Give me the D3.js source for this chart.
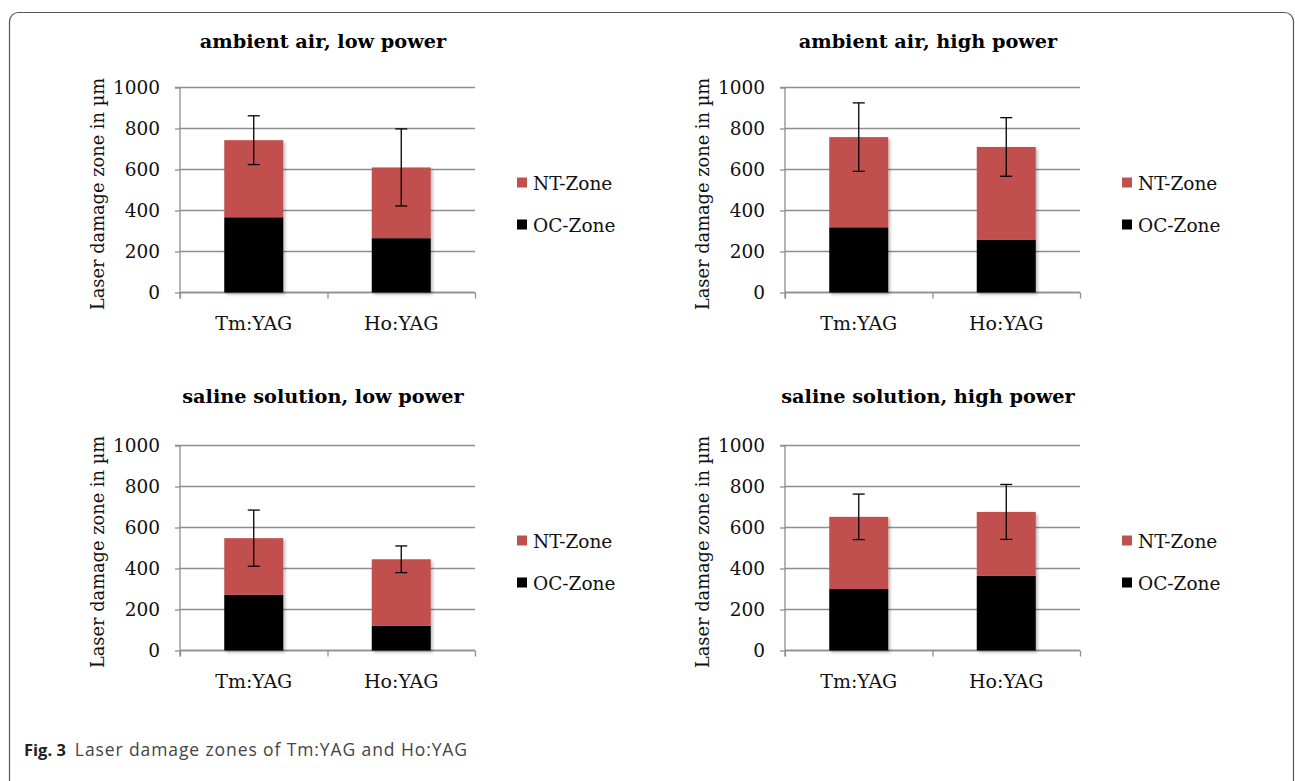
<!DOCTYPE html>
<html>
<head>
<meta charset="utf-8">
<script src="https://cdn.jsdelivr.net/npm/d3@7"></script>
<style>
  body { margin: 0; background: #fff; }
  svg text { font-family: "DejaVu Serif", serif; }
</style>
</head>
<body>
<svg id="chart" width="1295" height="781"></svg>
<script>
// chart data
var categories = ["Tm:YAG", "Ho:YAG"];
var panelTitles = ["ambient air, low power", "ambient air, high power",
                   "saline solution, low power", "saline solution, high power"];
var seriesNames = ["NT-Zone", "OC-Zone"];
var ocZone = [[367, 265], [318, 258], [272, 121], [300, 364]];
var ntZone = [[376, 345], [440, 452], [276, 324], [352, 312]];
var errBars = [[119, 188], [167, 143], [137, 65], [111, 134]];
var yTicks = [0, 200, 400, 600, 800, 1000];

var colors = { nt: "#c0504d", oc: "#000000" };
var gridColor = "#8e8e8e";

var svg = d3.select("#chart");

// drop shadow like the office chart bars
var defs = svg.append("defs");
defs.append("filter").attr("id", "shadow")
    .attr("x", "-20%").attr("y", "-20%").attr("width", "140%").attr("height", "140%")
  .append("feDropShadow")
    .attr("dx", 2).attr("dy", 2).attr("stdDeviation", 1.5)
    .attr("flood-color", "#000").attr("flood-opacity", 0.25);

// rounded frame
svg.append("rect")
    .attr("x", 9.5).attr("y", 12.5).attr("width", 1284).attr("height", 780)
    .attr("rx", 9).attr("fill", "none").attr("stroke", "#555").attr("stroke-width", 1.2);

var plotW = 295, plotH = 205;
var origins = [[180, 87.5], [785, 87.5], [180, 445.5], [785, 445.5]];
var titleOffset = [-40, -40, -43, -43];

var y = d3.scaleLinear().domain([0, 1000]).range([plotH, 0]);
var x = d3.scaleBand().domain(categories).range([0, plotW]).paddingInner(0.6).paddingOuter(0.3);
var xEdges = d3.scaleLinear().domain([0, categories.length]).range([0, plotW]);

panelTitles.forEach(function(title, p) {
  var g = svg.append("g")
      .attr("transform", "translate(" + origins[p][0] + "," + origins[p][1] + ")");

  g.append("text")
      .attr("x", 143).attr("y", titleOffset[p])
      .attr("text-anchor", "middle")
      .attr("font-size", 19.3).attr("font-weight", "bold")
      .text(title);

  // grid
  g.append("g").selectAll("line").data(yTicks).join("line")
      .attr("x1", 0).attr("x2", plotW)
      .attr("y1", function(d){ return y(d); }).attr("y2", function(d){ return y(d); })
      .attr("stroke", gridColor).attr("stroke-width", 1.3);

  // y axis
  var ya = g.append("g")
      .call(d3.axisLeft(y).tickValues(yTicks).tickFormat(d3.format("d")).tickSize(5).tickPadding(15));
  ya.selectAll("path, line").attr("stroke", gridColor).attr("stroke-width", 1.3);
  ya.select(".domain").attr("d", "M-5,0H0V" + (plotH + 6));
  ya.selectAll("text").attr("font-size", 18.5).attr("font-family", "DejaVu Serif").attr("fill", "#111");

  // x axis
  var xa = g.append("g").attr("transform", "translate(0," + plotH + ")")
      .call(d3.axisBottom(xEdges).ticks(categories.length).tickSize(6).tickFormat(""));
  xa.selectAll("path, line").attr("stroke", gridColor).attr("stroke-width", 1.3);
  xa.select(".domain").attr("d", "M0,0H" + plotW);

  g.selectAll(".cat").data(categories).join("text")
      .attr("class", "cat")
      .attr("x", function(d){ return x(d) + x.bandwidth() / 2; })
      .attr("y", plotH + 37)
      .attr("text-anchor", "middle").attr("font-size", 19).attr("fill", "#111")
      .text(function(d){ return d; });

  // y label
  g.append("text")
      .attr("transform", "translate(-76," + (plotH / 2 + 4) + ") rotate(-90)")
      .attr("text-anchor", "middle").attr("font-size", 17.8).attr("fill", "#111")
      .text("Laser damage zone in µm");

  // stacked bars
  var bars = g.append("g").attr("filter", "url(#shadow)");
  categories.forEach(function(c, i) {
    var oc = ocZone[p][i], nt = ntZone[p][i];
    bars.append("rect")
        .attr("x", x(c)).attr("width", x.bandwidth())
        .attr("y", y(oc)).attr("height", y(0) - y(oc))
        .attr("fill", colors.oc);
    bars.append("rect")
        .attr("x", x(c)).attr("width", x.bandwidth())
        .attr("y", y(oc + nt)).attr("height", y(oc) - y(oc + nt))
        .attr("fill", colors.nt);
  });

  // error bars
  categories.forEach(function(c, i) {
    var top = ocZone[p][i] + ntZone[p][i];
    var e = errBars[p][i];
    var cx = x(c) + x.bandwidth() / 2;
    var eg = g.append("g").attr("stroke", "#000").attr("stroke-width", 1.3);
    eg.append("line").attr("x1", cx).attr("x2", cx).attr("y1", y(top + e)).attr("y2", y(top - e));
    eg.append("line").attr("x1", cx - 6).attr("x2", cx + 6).attr("y1", y(top + e)).attr("y2", y(top + e));
    eg.append("line").attr("x1", cx - 6).attr("x2", cx + 6).attr("y1", y(top - e)).attr("y2", y(top - e));
  });

  // legend
  var leg = g.append("g").attr("transform", "translate(337,90)");
  seriesNames.forEach(function(name, k) {
    leg.append("rect").attr("x", 0).attr("y", k * 42).attr("width", 10).attr("height", 10)
        .attr("fill", k === 0 ? colors.nt : colors.oc);
    leg.append("text").attr("x", 16).attr("y", k * 42 + 12)
        .attr("font-size", 18.5).attr("fill", "#111").text(name);
  });
});

// caption
var cap = svg.append("text").attr("x", 24).attr("y", 756)
    .style("font-family", "'Open Sans', sans-serif");
cap.append("tspan").attr("font-weight", "bold").attr("font-size", 16.5).attr("fill", "#222").text("Fig. 3");
cap.append("tspan").attr("dx", 9).attr("font-size", 17.5).attr("letter-spacing", 0.9)
    .attr("fill", "#444").text("Laser damage zones of Tm:YAG and Ho:YAG");
</script>
</body>
</html>
